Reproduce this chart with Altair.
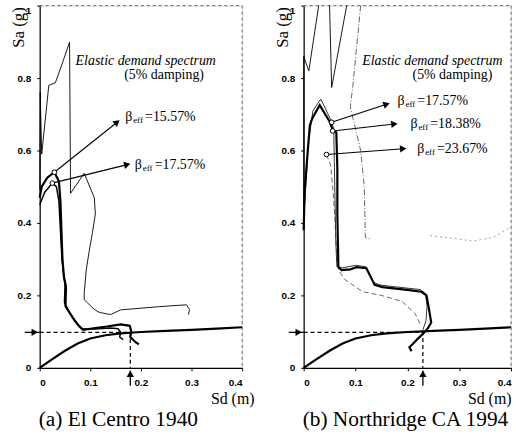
import math
import altair as alt
import pandas as pd

# ---------------- data ----------------
# shared capacity spectrum (bilinear-ish pushover curve)
CAP_SD = [0.0, 0.025, 0.05, 0.075, 0.10, 0.13, 0.16, 0.20, 0.25, 0.30, 0.35, 0.40]
CAP_SA = [0.0, 0.024, 0.047, 0.067, 0.081, 0.090, 0.095, 0.099, 0.102, 0.105, 0.108, 0.112]

# (a) El Centro 1940
A_ELASTIC_SD = [0.000, 0.001, 0.004, 0.018, 0.031, 0.045, 0.059, 0.061, 0.088, 0.108, 0.110, 0.104,
                0.098, 0.092, 0.088, 0.088, 0.094, 0.108, 0.118, 0.140, 0.160, 0.237, 0.290, 0.296, 0.294]
A_ELASTIC_SA = [0.49, 0.76, 0.59, 0.78, 0.787, 0.842, 0.899, 0.482, 0.537, 0.469, 0.425, 0.371,
                0.324, 0.27, 0.207, 0.188, 0.18, 0.161, 0.153, 0.147, 0.16, 0.169, 0.174, 0.161, 0.147]
A_DEM1_SD = [0.0, 0.004, 0.015, 0.029, 0.038, 0.041, 0.043, 0.045, 0.048, 0.052, 0.051, 0.060, 0.068,
             0.078, 0.086, 0.110, 0.133, 0.160, 0.178, 0.181, 0.179, 0.190, 0.196]
A_DEM1_SA = [0.47, 0.50, 0.525, 0.54, 0.515, 0.46, 0.38, 0.30, 0.25, 0.225, 0.17, 0.15, 0.133,
             0.115, 0.105, 0.110, 0.114, 0.120, 0.116, 0.100, 0.085, 0.070, 0.065]
A_DEM2_SD = [0.0, 0.010, 0.025, 0.033, 0.038, 0.041, 0.044, 0.047, 0.050, 0.049, 0.058, 0.070, 0.083,
             0.110, 0.140, 0.155, 0.160, 0.158, 0.165]
A_DEM2_SA = [0.45, 0.485, 0.51, 0.50, 0.46, 0.38, 0.30, 0.26, 0.23, 0.18, 0.155, 0.128, 0.108,
             0.107, 0.110, 0.108, 0.098, 0.085, 0.078]
A_CIRCLE_SD = [0.029, 0.025]
A_CIRCLE_SA = [0.54, 0.51]
A_TIP_SD = [0.153, 0.173]
A_TIP_SA = [0.678, 0.561]
A_BETA = ["=15.57%", "=17.57%"]
A_LABEL_SD = [0.169, 0.188]
A_LABEL_SA = [0.692, 0.561]
A_PERF = (0.179, 0.098)

# (b) Northridge CA 1994
B_EL1_SD = [0.0, 0.0, 0.010, 0.029]
B_EL1_SA = [0.425, 0.86, 0.82, 1.0]
B_EL2_SD = [0.050, 0.054, 0.083]
B_EL2_SA = [1.0, 0.774, 1.0]
B_EL3_SD = [0.110, 0.095, 0.090, 0.110, 0.117, 0.119, 0.130]
B_EL3_SA = [1.0, 0.78, 0.72, 0.60, 0.50, 0.36, 0.355]
B_EL4_SD = [0.244, 0.290, 0.327, 0.365, 0.398]
B_EL4_SA = [0.365, 0.357, 0.35, 0.36, 0.387]
B_DEM1_SD = [0.0, 0.002, 0.008, 0.012, 0.017, 0.031, 0.050, 0.056, 0.063, 0.065, 0.065, 0.067, 0.073,
             0.090, 0.102, 0.121, 0.137, 0.152, 0.200, 0.227, 0.237, 0.242, 0.246, 0.240, 0.233,
             0.220, 0.210, 0.204, 0.208]
B_DEM1_SA = [0.38, 0.49, 0.60, 0.67, 0.69, 0.725, 0.68, 0.657, 0.65, 0.55, 0.425, 0.278, 0.27,
             0.272, 0.278, 0.275, 0.229, 0.223, 0.215, 0.21, 0.20, 0.16, 0.125, 0.11, 0.098,
             0.08, 0.065, 0.057, 0.046]
B_DEM2_SD = [0.002, 0.009, 0.018, 0.033, 0.052, 0.058, 0.060, 0.062, 0.064, 0.075, 0.100, 0.120,
             0.135, 0.150, 0.225, 0.235, 0.238, 0.236, 0.230]
B_DEM2_SA = [0.45, 0.62, 0.71, 0.742, 0.686, 0.66, 0.50, 0.35, 0.28, 0.276, 0.283, 0.279,
             0.235, 0.228, 0.216, 0.205, 0.17, 0.13, 0.105]
B_DEM3_SD = [0.044, 0.052, 0.056, 0.060, 0.063, 0.067, 0.080, 0.114, 0.150, 0.190, 0.215, 0.225]
B_DEM3_SA = [0.589, 0.56, 0.50, 0.42, 0.33, 0.27, 0.243, 0.21, 0.20, 0.183, 0.15, 0.12]
B_CIRCLE_SD = [0.054, 0.056, 0.044]
B_CIRCLE_SA = [0.678, 0.654, 0.589]
B_TIP_SD = [0.160, 0.175, 0.192]
B_TIP_SA = [0.728, 0.673, 0.605]
B_BETA = ["=17.57%", "=18.38%", "=23.67%"]
B_LABEL_SD = [0.181, 0.206, 0.219]
B_LABEL_SA = [0.736, 0.673, 0.605]
B_PERF = (0.230, 0.098)

ELASTIC_TEXT = ["Elastic demand spectrum", "(5% damping)"]
A_ELTEXT_SD = [0.071, 0.167]
B_ELTEXT_SD = [0.113, 0.210]
ELTEXT_SA = [0.847, 0.809]

Y_TICKS = [0, 0.2, 0.4, 0.6, 0.8, 1]
X_TICKS = [0, 0.1, 0.2, 0.3, 0.4]
CAPTIONS = {"a": "(a) El Centro 1940", "b": "(b) Northridge CA 1994"}

# ---------------- layout / style ----------------
H = 365
WIDTHS = {"a": 204, "b": 209}
SERIF = "Liberation Serif"
SANS = "Liberation Sans"


def line_df(sd, sa):
    return pd.DataFrame({"sd": sd, "sa": sa, "i": range(len(sd))})


def panel(key, lines, circles, tips, betas, labels, perf, eltext_sd):
    W = WIDTHS[key]
    pxx = W / 0.4
    pxy = H / 1.0
    X = alt.X("sd:Q", scale=alt.Scale(domain=[0, 0.4], nice=False, zero=False),
              axis=alt.Axis(values=X_TICKS, format="~g", title="Sd (m)", grid=False,
                            domainColor="black", domainWidth=1.2, tickColor="black",
                            tickSize=3, labelPadding=7, labelFont=SANS, labelFontSize=10,
                            labelFontWeight="bold", labelColor="black",
                            titleFont=SERIF, titleFontSize=16, titleFontWeight="normal",
                            titleColor="black", titleX=W + (12 if key == "a" else 0),
                            titleY=31, titleAlign="right", titleBaseline="middle"))
    Y = alt.Y("sa:Q", scale=alt.Scale(domain=[0, 1], nice=False, zero=False),
              axis=alt.Axis(values=Y_TICKS, format="~g", title="Sa (g)", grid=False,
                            domainColor="black", domainWidth=1.2, tickColor="black",
                            tickSize=3, labelPadding=6, labelFont=SANS, labelFontSize=10,
                            labelFontWeight="bold", labelColor="black",
                            labelBaseline=alt.condition("datum.value == 1",
                                                        alt.value("top"), alt.value("middle")),
                            titleFont=SERIF, titleFontSize=17, titleFontWeight="normal",
                            titleColor="black", titleAngle=270, titleAlign="right",
                            titleBaseline="bottom", titleX=-12, titleY=1))
    layers = []
    # frame: dashed top and right borders
    layers.append(alt.Chart(pd.DataFrame({"k": [0]})).mark_rule(
        color="#666", strokeWidth=1, strokeDash=[3, 3]).encode(
        x=alt.value(0), x2=alt.value(W), y=alt.value(0)))
    layers.append(alt.Chart(pd.DataFrame({"k": [0]})).mark_rule(
        color="#666", strokeWidth=1, strokeDash=[3, 3]).encode(
        x=alt.value(W), y=alt.value(0), y2=alt.value(H)))
    for (sd, sa, style) in lines:
        layers.append(alt.Chart(line_df(sd, sa)).mark_line(**style).encode(
            x=X, y=Y, order="i:Q"))
    # performance point dashed guides and arrows
    psd, psa = perf
    guide = pd.DataFrame({"sd": [0, psd, psd], "sa": [psa, psa, 0], "i": [0, 1, 2]})
    layers.append(alt.Chart(guide).mark_line(color="black", strokeWidth=1.2,
                                             strokeDash=[4, 3]).encode(x=X, y=Y, order="i:Q"))
    left_stem = pd.DataFrame({"sd": [-15 / pxx, 0], "sa": [psa, psa], "i": [0, 1]})
    layers.append(alt.Chart(left_stem).mark_line(color="black", strokeWidth=1.3).encode(
        x=X, y=Y, order="i:Q"))
    bot_stem = pd.DataFrame({"sd": [psd, psd], "sa": [-18 / pxy, -3 / pxy], "i": [0, 1]})
    layers.append(alt.Chart(bot_stem).mark_line(color="black", strokeWidth=1.3).encode(
        x=X, y=Y, order="i:Q"))
    heads = pd.DataFrame({"sd": [-5 / pxx, psd], "sa": [psa, -6 / pxy], "ang": [0, 270]})
    # beta arrows
    arr_rows = []
    for k, (c, t) in enumerate(zip(circles, tips)):
        arr_rows.append({"id": k, "i": 0, "sd": c[0], "sa": c[1]})
        arr_rows.append({"id": k, "i": 1, "sd": t[0], "sa": t[1]})
        ang = math.degrees(math.atan2(-(t[1] - c[1]) * pxy, (t[0] - c[0]) * pxx)) % 360
        heads = pd.concat([heads, pd.DataFrame({"sd": [t[0]], "sa": [t[1]], "ang": [ang]})])
    layers.append(alt.Chart(pd.DataFrame(arr_rows)).mark_line(
        color="black", strokeWidth=1.1).encode(x=X, y=Y, detail="id:N", order="i:Q"))
    layers.append(alt.Chart(heads).mark_point(
        shape="triangle-right", filled=True, color="black", size=55, opacity=1).encode(
        x=X, y=Y, angle=alt.Angle("ang:Q", scale=None)))
    cdf = pd.DataFrame({"sd": [c[0] for c in circles], "sa": [c[1] for c in circles]})
    layers.append(alt.Chart(cdf).mark_point(
        shape="circle", filled=True, fill="white", stroke="black", strokeWidth=1,
        size=22, opacity=1).encode(x=X, y=Y))
    # beta labels: "β" + subscript "eff" + value
    ldf = pd.DataFrame({"sd": [l[0] for l in labels], "sa": [l[1] for l in labels],
                        "b": ["β"] * len(labels), "e": ["eff"] * len(labels), "v": betas})
    layers.append(alt.Chart(ldf).mark_text(align="left", baseline="middle", font=SERIF,
                                           fontSize=14, color="black").encode(x=X, y=Y, text="b:N"))
    layers.append(alt.Chart(ldf).mark_text(align="left", baseline="middle", font=SERIF,
                                           fontSize=9, dx=8, dy=3, color="black").encode(
        x=X, y=Y, text="e:N"))
    layers.append(alt.Chart(ldf).mark_text(align="left", baseline="middle", font=SERIF,
                                           fontSize=14, dx=20, color="black").encode(
        x=X, y=Y, text="v:N"))
    edf = pd.DataFrame({"sd": eltext_sd, "sa": ELTEXT_SA, "t": ELASTIC_TEXT})
    layers.append(alt.Chart(edf.iloc[[0]]).mark_text(
        align="left", baseline="middle", font=SERIF, fontSize=14, fontStyle="italic",
        color="black").encode(x=X, y=Y, text="t:N"))
    layers.append(alt.Chart(edf.iloc[[1]]).mark_text(
        align="left", baseline="middle", font=SERIF, fontSize=14,
        color="black").encode(x=X, y=Y, text="t:N"))
    return alt.layer(*layers).properties(
        width=W, height=H,
        title=alt.TitleParams(CAPTIONS[key], orient="bottom", anchor="start", frame="group",
                              font=SERIF, fontSize=21.5, fontWeight="normal", color="black",
                              offset=3, dx=-1))


thick = dict(color="black", strokeWidth=2.2)
thin = dict(color="black", strokeWidth=0.9)
mid = dict(color="black", strokeWidth=1.5)

pa = panel(
    "a",
    [(A_ELASTIC_SD, A_ELASTIC_SA, thin),
     (A_DEM2_SD, A_DEM2_SA, mid),
     (A_DEM1_SD, A_DEM1_SA, thick),
     (CAP_SD, CAP_SA, thick)],
    list(zip(A_CIRCLE_SD, A_CIRCLE_SA)), list(zip(A_TIP_SD, A_TIP_SA)), A_BETA,
    list(zip(A_LABEL_SD, A_LABEL_SA)), A_PERF, A_ELTEXT_SD)

pb = panel(
    "b",
    [(B_EL1_SD, B_EL1_SA, thin),
     (B_EL2_SD, B_EL2_SA, thin),
     (B_EL3_SD, B_EL3_SA, dict(color="#555", strokeWidth=0.9, strokeDash=[6, 2, 1, 2])),
     (B_EL4_SD, B_EL4_SA, dict(color="#999", strokeWidth=0.9, strokeDash=[2, 3])),
     (B_DEM3_SD, B_DEM3_SA, dict(color="#555", strokeWidth=0.9, strokeDash=[5, 3])),
     (B_DEM2_SD, B_DEM2_SA, dict(color="#333", strokeWidth=1.0)),
     (B_DEM1_SD, B_DEM1_SA, thick),
     (CAP_SD, CAP_SA, thick)],
    list(zip(B_CIRCLE_SD, B_CIRCLE_SA)), list(zip(B_TIP_SD, B_TIP_SA)), B_BETA,
    list(zip(B_LABEL_SD, B_LABEL_SA)), B_PERF, B_ELTEXT_SD)

chart = alt.hconcat(pa, pb, spacing=18).properties(
    padding={"left": 9, "top": 1, "right": 0, "bottom": 0}
).configure_view(stroke=None).configure(background="white")

chart.save("out.html", embed_options={"renderer": "svg", "actions": False})
